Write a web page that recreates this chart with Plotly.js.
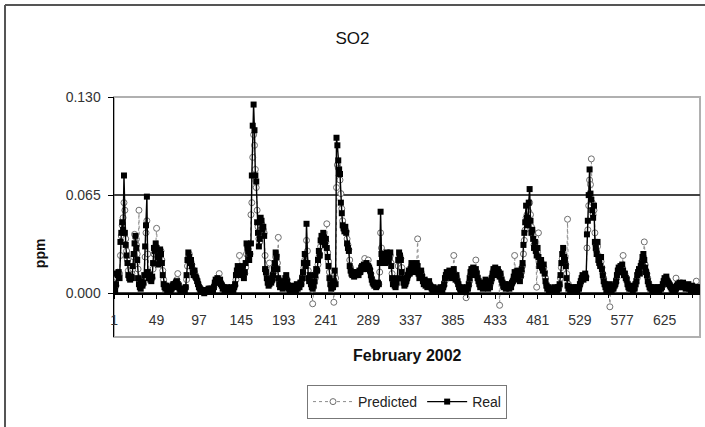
<!DOCTYPE html>
<html>
<head>
<meta charset="utf-8">
<script src="https://cdn.plot.ly/plotly-3.0.1.min.js"></script>
<style>
  html, body { margin: 0; padding: 0; background: #fff; }
  #chart { width: 705px; height: 427px; }
</style>
</head>
<body>
<div id="chart"></div>
<script>
// Hourly SO2 concentrations, February 2002 (ppm)
const realPpm = [
0.004,0.002,0.006,0.013,0.012,0.014,0.010,0.034,0.040,0.047,0.042,0.078,
0.040,0.032,0.025,0.020,0.012,0.010,0.009,0.011,0.010,0.018,0.026,0.033,
0.038,0.030,0.022,0.010,0.006,0.004,0.003,0.008,0.005,0.007,0.012,0.031,
0.045,0.064,0.014,0.010,0.012,0.009,0.008,0.011,0.020,0.030,0.028,0.033,
0.030,0.024,0.019,0.022,0.029,0.026,0.020,0.012,0.006,0.004,0.003,0.005,
0.002,0.003,0.004,0.002,0.001,0.003,0.005,0.006,0.004,0.006,0.007,0.008,
0.006,0.005,0.003,0.002,0.001,0.002,0.001,0.003,0.002,0.004,0.012,0.022,
0.027,0.024,0.020,0.022,0.018,0.014,0.012,0.015,0.011,0.010,0.008,0.006,
0.004,0.003,0.002,0.001,0.002,0.001,0.000,0.001,0.002,0.001,0.002,0.003,
0.002,0.001,0.002,0.003,0.002,0.004,0.007,0.009,0.008,0.010,0.008,0.007,
0.009,0.006,0.005,0.003,0.004,0.002,0.003,0.002,0.004,0.003,0.002,0.003,
0.002,0.004,0.003,0.002,0.004,0.006,0.012,0.015,0.018,0.014,0.016,0.012,
0.015,0.018,0.013,0.010,0.014,0.020,0.033,0.030,0.028,0.022,0.026,0.033,
0.078,0.111,0.125,0.108,0.078,0.074,0.047,0.040,0.031,0.036,0.050,0.048,
0.042,0.044,0.038,0.016,0.014,0.010,0.007,0.005,0.006,0.008,0.007,0.009,
0.012,0.016,0.020,0.027,0.024,0.016,0.010,0.006,0.004,0.008,0.005,0.003,
0.004,0.006,0.010,0.012,0.008,0.005,0.003,0.002,0.004,0.003,0.002,0.005,
0.003,0.004,0.002,0.006,0.003,0.005,0.004,0.007,0.006,0.010,0.014,0.020,
0.026,0.018,0.046,0.020,0.010,0.008,0.012,0.006,0.004,0.003,0.005,0.008,
0.012,0.016,0.015,0.022,0.028,0.025,0.035,0.038,0.034,0.040,0.037,0.032,
0.036,0.030,0.024,0.018,0.010,0.006,0.003,0.005,0.004,0.008,0.015,0.006,
0.103,0.098,0.088,0.082,0.079,0.060,0.053,0.045,0.043,0.041,0.044,0.040,
0.033,0.030,0.028,0.018,0.015,0.013,0.012,0.014,0.011,0.013,0.012,0.014,
0.013,0.012,0.015,0.014,0.017,0.018,0.016,0.019,0.017,0.018,0.020,0.016,
0.018,0.017,0.015,0.012,0.009,0.007,0.006,0.005,0.006,0.004,0.005,0.007,
0.006,0.020,0.054,0.026,0.022,0.025,0.024,0.020,0.025,0.027,0.022,0.021,
0.024,0.027,0.018,0.010,0.006,0.008,0.005,0.004,0.007,0.010,0.022,0.027,
0.025,0.022,0.014,0.010,0.007,0.005,0.006,0.008,0.010,0.012,0.015,0.013,
0.016,0.020,0.018,0.015,0.019,0.014,0.017,0.020,0.018,0.013,0.010,0.012,
0.015,0.011,0.008,0.006,0.009,0.005,0.007,0.004,0.006,0.008,0.005,0.004,
0.003,0.002,0.004,0.001,0.002,0.003,0.001,0.002,0.003,0.002,0.004,0.003,
0.002,0.004,0.006,0.010,0.012,0.014,0.011,0.013,0.015,0.012,0.010,0.013,
0.014,0.016,0.011,0.009,0.012,0.008,0.006,0.004,0.003,0.002,0.004,0.003,
0.002,0.003,0.001,0.002,0.004,0.003,0.006,0.010,0.014,0.016,0.013,0.017,
0.015,0.012,0.016,0.013,0.010,0.008,0.006,0.004,0.005,0.007,0.003,0.004,
0.006,0.009,0.005,0.004,0.003,0.006,0.004,0.008,0.010,0.013,0.016,0.014,
0.017,0.015,0.012,0.016,0.014,0.011,0.013,0.009,0.007,0.005,0.004,0.006,
0.003,0.005,0.004,0.006,0.003,0.005,0.004,0.007,0.008,0.011,0.014,0.010,
0.012,0.015,0.009,0.013,0.008,0.012,0.016,0.020,0.032,0.040,0.047,0.058,
0.050,0.045,0.060,0.069,0.048,0.040,0.042,0.036,0.030,0.034,0.028,0.025,
0.030,0.024,0.018,0.020,0.022,0.017,0.015,0.019,0.013,0.008,0.005,0.003,
0.004,0.002,0.003,0.001,0.002,0.003,0.002,0.004,0.002,0.003,0.002,0.004,
0.003,0.006,0.012,0.020,0.026,0.030,0.024,0.022,0.018,0.010,0.005,0.003,
0.004,0.002,0.003,0.002,0.004,0.003,0.002,0.004,0.003,0.002,0.004,0.003,
0.006,0.008,0.010,0.012,0.009,0.011,0.013,0.010,0.039,0.048,0.065,0.082,
0.066,0.062,0.055,0.050,0.058,0.034,0.030,0.026,0.034,0.022,0.020,0.018,
0.024,0.016,0.012,0.008,0.006,0.004,0.002,0.005,0.003,0.006,0.004,0.003,
0.002,0.004,0.003,0.005,0.006,0.008,0.012,0.015,0.017,0.016,0.018,0.014,
0.019,0.015,0.012,0.013,0.010,0.009,0.006,0.004,0.003,0.005,0.003,0.004,
0.002,0.004,0.003,0.006,0.008,0.012,0.014,0.016,0.013,0.018,0.020,0.024,
0.026,0.022,0.017,0.014,0.012,0.008,0.006,0.004,0.003,0.004,0.002,0.003,
0.004,0.002,0.003,0.002,0.004,0.003,0.002,0.004,0.003,0.004,0.006,0.008,
0.010,0.009,0.011,0.008,0.007,0.006,0.005,0.004,0.003,0.002,0.003,0.004,
0.002,0.003,0.005,0.006,0.004,0.007,0.005,0.004,0.006,0.007,0.005,0.004,
0.003,0.005,0.004,0.006,0.003,0.004,0.002,0.005,0.003,0.004,0.002,0.003,
0.004,0.003,0.002,0.004,0.003
];

const predictedPpm = [
0.006,0.004,0.005,0.010,0.014,0.012,0.013,0.025,0.038,0.045,0.050,0.060,
0.055,0.036,0.028,0.022,0.015,0.011,0.010,0.012,0.013,0.016,0.024,0.039,
0.034,0.032,0.026,0.016,0.055,0.008,0.005,0.006,0.007,0.006,0.010,0.024,
0.040,0.048,0.026,0.014,0.011,0.010,0.009,0.010,0.016,0.026,0.030,0.031,
0.043,0.028,0.022,0.020,0.025,0.028,0.022,0.015,0.009,0.006,0.004,0.004,
0.003,0.003,0.004,0.003,0.002,0.003,0.004,0.006,0.005,0.006,0.008,0.009,
0.013,0.006,0.004,0.003,0.002,0.002,0.002,0.003,0.003,0.004,0.009,0.018,
0.024,0.026,0.022,0.021,0.019,0.016,0.013,0.014,0.012,0.010,0.009,0.007,
0.005,0.004,0.003,0.002,0.002,0.002,0.001,0.001,0.002,0.002,0.002,0.003,
0.003,0.002,0.002,0.003,0.003,0.004,0.006,0.008,0.009,0.009,0.009,0.013,
0.008,0.007,0.006,0.004,0.004,0.003,0.003,0.003,0.003,0.003,0.003,0.003,
0.003,0.003,0.003,0.003,0.004,0.005,0.009,0.013,0.016,0.016,0.025,0.014,
0.015,0.016,0.015,0.012,0.013,0.017,0.026,0.031,0.029,0.025,0.026,0.052,
0.060,0.090,0.105,0.098,0.082,0.070,0.055,0.044,0.036,0.034,0.042,0.046,
0.044,0.042,0.040,0.025,0.016,0.012,0.009,0.006,0.020,0.008,0.008,0.008,
0.010,0.014,0.018,0.024,0.025,0.020,0.037,0.009,0.006,0.007,0.006,0.004,
0.004,0.005,0.008,0.010,0.009,0.006,0.004,0.003,0.003,0.003,0.003,0.004,
0.004,0.004,0.003,0.005,0.004,0.005,0.005,0.006,0.006,0.009,0.012,0.017,
0.022,0.021,0.035,0.028,0.015,0.010,0.010,0.008,0.005,-0.007,0.004,0.007,
0.010,0.014,0.015,0.019,0.024,0.026,0.031,0.035,0.035,0.038,0.037,0.034,
0.034,0.046,0.027,0.021,0.014,0.009,0.005,0.004,0.004,-0.006,0.012,0.010,
0.070,0.085,0.083,0.078,0.075,0.066,0.056,0.048,0.044,0.042,0.042,0.041,
0.036,0.032,0.029,0.022,0.017,0.014,0.012,0.013,0.012,0.012,0.012,0.013,
0.013,0.013,0.014,0.014,0.016,0.017,0.017,0.018,0.023,0.018,0.019,0.017,
0.022,0.017,0.016,0.013,0.010,0.008,0.007,0.006,0.006,0.005,0.005,0.006,
0.006,0.014,0.040,0.030,0.024,0.024,0.024,0.022,0.024,0.026,0.023,0.022,
0.023,0.025,0.020,0.013,0.008,0.007,0.006,0.005,0.006,0.009,0.018,0.024,
0.025,0.023,0.017,0.012,0.009,0.006,0.006,0.007,0.009,0.011,0.014,0.013,
0.015,0.018,0.018,0.016,0.018,0.015,0.016,0.019,0.036,0.015,0.012,0.012,
0.014,0.012,0.009,0.007,0.008,0.006,0.006,0.005,0.006,0.007,0.006,0.005,
0.004,0.003,0.003,0.002,0.002,0.003,0.002,0.002,0.003,0.002,0.003,0.003,
0.003,0.004,0.005,0.008,0.011,0.013,0.012,0.013,0.014,0.013,0.011,0.012,
0.013,0.025,0.013,0.010,0.011,0.009,0.007,0.005,0.004,0.003,0.003,0.003,
0.003,0.003,0.002,-0.003,0.003,0.003,0.005,0.008,0.012,0.015,0.014,0.016,
0.015,0.013,0.022,0.014,0.011,0.009,0.007,0.005,0.005,0.006,0.004,0.004,
0.005,0.008,0.006,0.005,0.004,0.005,0.005,0.007,0.009,0.012,0.015,0.015,
0.016,0.015,0.013,0.015,0.014,-0.008,0.012,0.010,0.008,0.006,0.005,0.005,
0.004,0.005,0.004,0.005,0.004,0.005,0.005,0.006,0.008,0.010,0.025,0.011,
0.012,0.014,0.011,0.012,0.010,0.011,0.014,0.018,0.026,0.035,0.042,0.050,
0.052,0.048,0.054,0.060,0.052,0.044,0.041,0.038,0.032,0.032,0.029,0.004,
0.027,0.040,0.020,0.020,0.021,0.018,0.016,0.017,0.014,0.010,0.006,0.004,
0.004,0.003,0.003,0.002,0.002,0.003,0.003,0.003,0.003,0.003,0.003,0.003,
0.003,0.005,0.010,0.017,0.023,0.027,0.025,0.023,0.019,0.013,0.049,0.006,
0.004,0.003,0.003,0.003,0.003,0.003,0.003,0.003,0.003,0.003,0.003,0.003,
0.005,0.007,0.009,0.011,0.010,0.011,0.012,0.011,0.030,0.042,0.058,0.075,
0.072,0.089,0.060,0.052,0.055,0.040,0.032,0.028,0.031,0.025,0.021,0.019,
0.021,0.017,0.013,0.010,0.007,0.005,0.004,0.004,0.004,0.005,-0.009,0.004,
0.003,0.003,0.003,0.004,0.005,0.007,0.010,0.013,0.016,0.016,0.017,0.015,
0.017,0.025,0.013,0.013,0.011,0.010,0.007,0.005,0.004,0.004,0.004,0.004,
0.003,0.003,0.003,0.005,0.007,0.010,0.013,0.015,0.014,0.016,0.019,0.022,
0.024,0.034,0.019,0.015,0.013,0.010,0.007,0.005,0.004,0.004,0.003,0.003,
0.003,0.003,0.003,0.003,0.003,0.003,0.003,0.003,0.003,0.004,0.005,0.007,
0.009,0.009,0.010,0.009,0.008,0.007,0.006,0.005,0.004,0.003,0.003,0.003,
0.003,0.010,0.004,0.005,0.005,0.006,0.005,0.005,0.005,0.006,0.005,0.005,
0.004,0.004,0.004,0.005,0.004,0.004,0.003,0.004,0.004,0.004,0.003,0.003,
0.008,0.004,0.003,0.003,0.004
];

const xTickLabels = ["1","49","97","145","193","241","289","337","385","433","481","529","577","625"];
const yTickValues = [0.000, 0.065, 0.130];

const hours = realPpm.map((_, i) => i + 1);
const predHours = predictedPpm.map((_, i) => i + 1);
const FONT = '"Liberation Sans", Arial, Helvetica, sans-serif';

const traces = [
  {
    x: predHours, y: predictedPpm, name: 'Predicted', type: 'scatter', mode: 'lines+markers',
    line: { color: '#8c8c8c', width: 1, dash: 'dot' },
    marker: { symbol: 'circle', size: 6, color: '#ffffff', line: { color: '#6e6e6e', width: 1 } }
  },
  {
    x: hours, y: realPpm, name: 'Real', type: 'scatter', mode: 'lines+markers',
    line: { color: '#000000', width: 1.4 },
    marker: { symbol: 'square', size: 6, color: '#000000' }
  }
];

const yMin = -0.029, yMax = 0.130;

const layout = {
  width: 705, height: 427,
  margin: { l: 114, r: 5, t: 97, b: 90 },
  paper_bgcolor: '#ffffff', plot_bgcolor: '#ffffff',
  font: { family: FONT, size: 13, color: '#222' },
  showlegend: true,
  title: { text: 'SO2', font: { family: FONT, size: 17, color: '#111' },
           x: 0.5, xref: 'container', xanchor: 'center', y: 0.91, yref: 'container', yanchor: 'middle' },
  xaxis: {
    range: [0.7, 665.2], anchor: 'free', position: (0 - yMin) / (yMax - yMin),
    tickmode: 'array', tickvals: xTickLabels.map(Number), ticktext: xTickLabels,
    ticks: 'outside', ticklen: 4, tickcolor: '#000', tickwidth: 1,
    showline: true, linecolor: '#000', linewidth: 1.5,
    showgrid: false, zeroline: false, ticklabelstandoff: 9,
    tickfont: { family: FONT, size: 14, color: '#333' },
    minor: { dtick: 16, tick0: 1, ticks: 'outside', ticklen: 3, tickcolor: '#000', showgrid: false }
  },
  yaxis: {
    range: [yMin, yMax], tickmode: 'array', tickvals: yTickValues, tickformat: '.3f',
    ticks: 'outside', ticklen: 5, tickcolor: '#000',
    showline: true, linecolor: '#000', linewidth: 1.5,
    showgrid: true, gridcolor: '#444', gridwidth: 1.5, zeroline: false,
    ticklabelstandoff: 4,
    tickfont: { family: FONT, size: 14, color: '#333' }
  },
  legend: {
    orientation: 'h', x: 0.5, xanchor: 'center', y: -0.2, yanchor: 'top',
    bordercolor: '#777', borderwidth: 1, bgcolor: '#fff',
    font: { family: FONT, size: 14, color: '#222' }, itemwidth: 40
  },
  annotations: [
    { text: '<b>ppm</b>', xref: 'paper', yref: 'paper', x: -0.126, y: 0.35, showarrow: false,
      textangle: -90, font: { family: FONT, size: 14, color: '#111' }, xanchor: 'center', yanchor: 'middle' },
    { text: '<b>February 2002</b>', xref: 'paper', yref: 'paper', x: 0.5, y: -0.075, showarrow: false,
      font: { family: FONT, size: 16, color: '#111' }, xanchor: 'center', yanchor: 'middle' }
  ],
  shapes: [
    { type: 'rect', xref: 'paper', yref: 'paper', x0: 0, x1: 1, y0: 0, y1: 1,
      line: { color: '#b0b0b0', width: 2 }, layer: 'below' },
    { type: 'line', xref: 'paper', yref: 'paper', x0: 0, x1: 1, y0: 1, y1: 1,
      line: { color: '#b0b0b0', width: 2 }, layer: 'above' },
    { type: 'line', xref: 'paper', yref: 'paper', x0: -0.186, x1: -0.186, y0: 1.383, y1: -0.4,
      line: { color: '#555', width: 2 } },
    { type: 'line', xref: 'paper', yref: 'paper', x0: -0.186, x1: 1.02, y0: 1.383, y1: 1.383,
      line: { color: '#555', width: 2 } }
  ]
};

Plotly.newPlot('chart', traces, layout, { displayModeBar: false, staticPlot: true });
</script>
</body>
</html>
